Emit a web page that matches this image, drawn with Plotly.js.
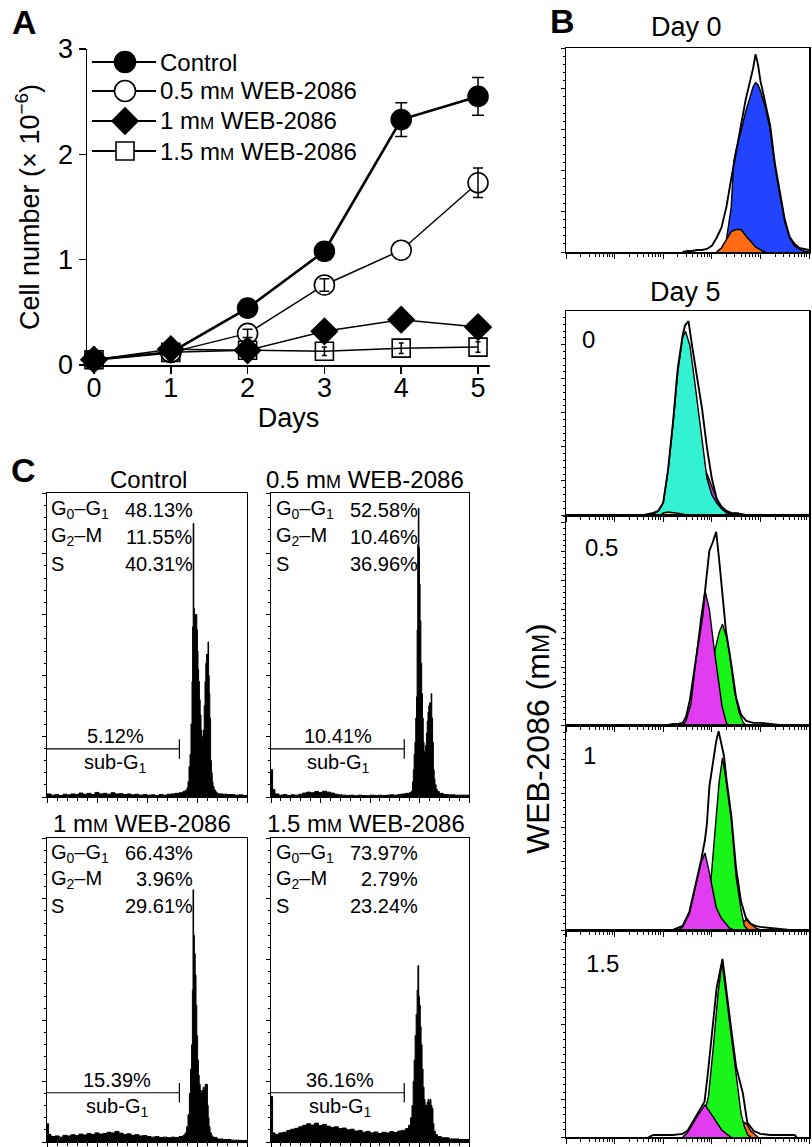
<!DOCTYPE html>
<html><head><meta charset="utf-8">
<script src="https://cdn.plot.ly/plotly-3.0.1.min.js"></script>
<style>html,body{margin:0;padding:0;background:#fff}</style>
</head><body><div id="chart" style="width:812px;height:1147px"></div>
<script>
// ---------------- Panel A data ----------------
const days = [0, 1, 2, 3, 4, 5];
const ctrlCells = [0.05, 0.12, 0.54, 1.08, 2.33, 2.55];
const ctrlErr   = [0.02, 0.02, 0.03, 0.04, 0.16, 0.18];
const web05Cells = [0.05, 0.12, 0.30, 0.76, 1.09, 1.73];
const web05Err   = [null, null, 0.04, 0.06, null, 0.14];
const web1Cells  = [0.05, 0.15, 0.14, 0.32, 0.43, 0.36];
const web1Err    = [0.03, 0.03, 0.05, 0.03, 0.03, 0.03];
const web15Cells = [0.05, 0.12, 0.14, 0.13, 0.16, 0.17];
const web15Err   = [0.04, 0.03, 0.04, 0.04, 0.05, 0.05];
const seriesNames = ['Control', '0.5 mM WEB-2086', '1 mM WEB-2086', '1.5 mM WEB-2086'];

// ---------------- Panel B data (x: log decades, y: % of panel height) ----------------
const bTitles = ['Day 0', 'Day 5'];
const bConc = ['0', '0.5', '1', '1.5'];
// Day 0
const b0TotalX = [2.4,2.5,2.6,2.7,2.8,2.9,3.0,3.1,3.2,3.3,3.4,3.5,3.6,3.7,3.8,3.85,3.9,3.95,4.0,4.1,4.2,4.3,4.4,4.5,4.6,4.7,4.8,4.9,5.0];
const b0TotalY = [0,0.5,0.5,1,1,1.5,3,7,12,22,36,50,62,75,85,90,97,92,84,73,62,43,30,16,7.5,4,2,1.5,1];
const b0BlueX = [3.1,3.2,3.3,3.4,3.45,3.5,3.6,3.7,3.8,3.85,3.9,3.95,4.0,4.1,4.2,4.3,4.4,4.5,4.6,4.7,4.8,4.9,5.0];
const b0BlueY = [0,2,6,22,44,50,59,69,77,81,83,82,79,71,60,42,28,15,7,3,1.5,0.5,0];
const b0OrangeX = [3.1,3.2,3.3,3.4,3.5,3.6,3.7,3.8,3.9,4.0,4.1];
const b0OrangeY = [0,2,6,10,11,11,8,5,2.5,1,0];
// Day 5, 0 mM
const b1TotalX = [1.6,1.7,1.8,1.9,2.0,2.1,2.2,2.3,2.4,2.45,2.52,2.6,2.7,2.8,2.9,3.0,3.1,3.2,3.3,3.4,3.5,3.6,3.7];
const b1TotalY = [0,0.5,1,2,6,22,45,72,88,93,95,82,68,52,33,18,8,4,2,1,0.5,0.5,0];
const b1MagentaX = [2.5,2.6,2.7,2.8,2.87,2.95,3.0,3.1,3.2,3.3,3.4,3.5];
const b1MagentaY = [0,5,15,21,22,17,14,8,3.5,1.5,0.5,0];
const b1CyanX = [1.7,1.8,1.9,2.0,2.1,2.2,2.3,2.4,2.46,2.55,2.65,2.75,2.85,2.9,2.95,3.0,3.1,3.2,3.3,3.4];
const b1CyanY = [0,0.5,2,6,22,44,70,87,90,83,65,45,26,18,14,10,6,3,1,0];
const b1YellowX = [1.95,2.0,2.1,2.2,2.3,2.4,2.45];
const b1YellowY = [0,1,1.5,1.2,1,0.5,0];
const b1OrangeX = [3.4,3.45,3.55,3.6];
const b1OrangeY = [0,1,1,0];
// Day 5, 0.5 mM
const b2TotalX = [2.1,2.2,2.3,2.4,2.47,2.55,2.67,2.81,2.88,2.95,3.02,3.09,3.15,3.22,3.29,3.4,3.5,3.6,3.71,3.85,4.0,4.2,4.4];
const b2TotalY = [0,0.5,0.5,1,4,12,31,52,68,83,87,92,79,63,45,29,13,5,2,1,1,0.5,0];
const b2GreenX = [2.85,2.9,3.0,3.07,3.15,3.22,3.3,3.36,3.46,3.56,3.65,3.7];
const b2GreenY = [0,5,25,36,44,48,42,35,17,6,1,0];
const b2MagentaX = [2.4,2.47,2.57,2.67,2.77,2.86,2.95,3.05,3.15,3.21,3.3,3.35];
const b2MagentaY = [0,2,10,29,50,64,55,36,20,9,1,0];
// Day 5, 1 mM
const b3TotalX = [2.2,2.3,2.4,2.54,2.67,2.78,2.86,2.9,2.95,3.02,3.09,3.14,3.2,3.25,3.3,3.4,3.5,3.6,3.7,3.8,3.9,4.0,4.2,4.4,4.6];
const b3TotalY = [0,1,2,9,22,34,44,52,70,82,92,97,91,85,74,56,30,14,6,3,2,1.5,1,0.5,0];
const b3OrangeX = [3.55,3.62,3.7,3.8,3.9,4.0];
const b3OrangeY = [0,3,5,3,1,0];
const b3GreenX = [2.85,2.95,3.02,3.09,3.15,3.22,3.28,3.4,3.5,3.6,3.67,3.75];
const b3GreenY = [0,15,35,54,72,84,75,54,26,10,2,0];
const b3MagentaX = [2.3,2.4,2.54,2.67,2.78,2.86,2.95,3.09,3.19,3.36,3.45];
const b3MagentaY = [0,1.5,8,21,33,37.5,28,11,6,1,0];
// Day 5, 1.5 mM
const b4TotalX = [1.7,1.8,2.0,2.2,2.4,2.5,2.7,2.85,2.92,3.02,3.1,3.22,3.3,3.4,3.5,3.64,3.73,3.86,4.0,4.2,4.5,4.7,4.75];
const b4TotalY = [0,1,1,1,1.5,3,11,17,31,53,72,86,72,52,34,21,7,3,1.5,1,1,1,0];
const b4OrangeX = [3.55,3.6,3.67,3.73,3.8,3.9,3.95];
const b4OrangeY = [0,4,7,6,3,1,0];
const b4GreenX = [2.7,2.8,2.88,2.93,3.02,3.13,3.21,3.3,3.4,3.5,3.6,3.67,3.74,3.8];
const b4GreenY = [0,3,14.5,19.5,40.5,69.5,84.7,67.6,48,31,11.6,5,1,0];
const b4MagentaX = [2.4,2.5,2.7,2.86,3.02,3.2,3.33,3.4];
const b4MagentaY = [0,2,10,15.5,10,3.5,1,0];

// ---------------- Panel C data (x: DNA channel 0-1000, y: % of panel height) ----------------
const cTitles = ['Control', '0.5 mM WEB-2086', '1 mM WEB-2086', '1.5 mM WEB-2086'];
const cPhaseLabels = ['G<sub>0</sub>–G<sub>1</sub>', 'G<sub>2</sub>–M', 'S'];
const cPhasePct = [[48.13, 11.55, 40.31], [52.58, 10.46, 36.96], [66.43, 3.96, 29.61], [73.97, 2.79, 23.24]];
const subG1Pct = [5.12, 10.41, 15.39, 36.16];
const subG1GateEnd = [662, 673, 662, 673];
const subG1GateLevel = [15.8, 15.8, 16.2, 16.2];

const cCtrlX = [0,20,40,60,80,100,120,140,160,180,200,220,240,260,280,300,320,340,360,380,400,420,440,460,480,500,520,540,560,580,600,620,640,660,680,690,700,705,710,715,720,725,728,731,734,737,740,743,746,749,752,755,758,762,766,770,774,778,782,786,790,794,798,802,805,808,811,814,818,822,826,830,835,840,845,850,860,880,900,920,940,960,980,1000];
const cCtrlY = [1.0,0.6,0.8,0.5,0.9,0.7,1.0,0.8,1.3,0.9,1.2,0.8,1.5,1.0,1.2,0.9,1.4,1.0,1.1,0.8,1.0,0.7,0.9,0.6,0.8,0.6,0.7,0.5,0.8,0.6,0.9,1.0,1.2,1.4,1.8,2.2,3,5,10,14,24,38,56,90,62,58,60,57,60,55,48,42,38,32,27,22,19,20,22,30,38,44,47,45,51,40,34,26,12,8,5,3.5,2.5,2,1.5,1.2,1,0.9,0.8,0.8,0.6,0.7,0.5,0.5];
const cW05X = [0,4,8,20,40,60,80,100,120,140,160,180,200,220,240,260,280,300,320,340,360,380,400,420,440,460,480,500,520,540,560,580,600,620,640,660,680,700,710,715,719,723,727,731,735,738,741,744,747,750,753,757,761,765,769,773,777,781,785,789,793,797,801,805,809,812,816,820,824,828,834,840,850,870,900,930,960,1000];
const cW05Y = [9,9,2.5,1.0,0.6,0.8,0.5,0.7,0.6,0.9,1.3,1.6,1.4,1.8,1.5,1.9,1.6,1.3,0.9,0.7,0.6,0.5,0.6,0.4,0.6,0.5,0.4,0.6,0.5,0.6,0.5,0.6,0.7,0.6,0.8,1.0,1.2,1.5,2,5,9,14,18,26,33,55,83,95,82,70,58,44,34,26,18,15,15,17,21,25,28,30,31,29,34,26,18,9,6,4,2.5,1.8,1.2,0.8,0.7,0.6,0.6,0.5];
const cW1X = [0,4,8,20,40,60,80,100,120,140,160,180,200,220,240,260,280,300,320,340,360,380,400,420,440,460,480,500,520,540,560,580,600,620,640,660,680,690,698,705,712,718,723,727,730,733,737,741,745,749,753,757,761,766,771,776,781,786,791,795,798,802,806,810,815,822,830,850,880,920,960,1000];
const cW1Y = [6,6,2.5,1.8,2.0,1.6,2.2,2.0,2.4,2.1,2.6,2.3,2.8,2.5,3.0,2.6,2.8,3.2,3.0,3.5,2.9,2.5,2.7,2.2,2.4,2.0,2.1,1.8,1.6,1.8,1.5,1.6,1.4,1.6,1.5,1.8,2.2,3,5,9,16,24,32,50,83,68,62,55,45,35,27,22,19,17,16,17,18,17,19,16,19,12,8,5,3,2,1.5,1.0,0.8,0.6,0.5,0.4];
const cW15X = [0,4,8,20,40,60,80,100,120,140,160,180,200,220,240,260,280,300,320,340,360,380,400,420,440,460,480,500,520,540,560,580,600,620,640,660,680,695,705,712,718,723,728,733,738,742,746,750,754,758,763,768,773,778,783,788,793,798,803,808,813,818,823,830,840,860,900,950,1000];
const cW15Y = [15,15,3,2.5,3.0,3.2,3.8,4.2,4.5,5.0,5.5,6.0,5.6,6.2,5.4,5.8,5.2,4.8,5.0,4.4,4.6,4.0,4.2,3.6,3.8,3.2,3.5,3.0,3.3,2.8,3.2,3.0,3.4,3.1,3.6,3.8,4.4,5.5,8,12,20,27,35,42,50,58,48,45,38,32,24,18,14,12,12,13,14,13,14,12,11,6,3.5,2.5,1.8,1.4,1.0,0.8,0.6];

// ---------------- Build figure ----------------
const W = 812, H = 1147;
const FONT = 'Liberation Sans, Arial, Helvetica, sans-serif';
const fx = px => px / W;
const fy = py => 1 - py / H;
const smallM = (s, px) => s.replace('mM', 'm<span style="font-size:' + px + 'px">M</span>');

const traces = [];
// Panel A: lines + markers
const aSeries = [
  {y: ctrlCells, e: ctrlErr, sym: 'circle', fill: '#000', keyFill: '#000', lw: 2.6, size: 20, cap: 6},
  {y: web05Cells, e: web05Err, sym: 'circle', fill: '#fff', keyFill: '#fff', lw: 1.5, size: 20, cap: 5},
  {y: web1Cells, e: web1Err, sym: 'diamond', fill: '#000', keyFill: '#000', lw: 1.5, size: 20, cap: 5},
  {y: web15Cells, e: web15Err, sym: 'square', fill: 'rgba(255,255,255,0)', keyFill: '#fff', lw: 1.5, size: 18, cap: 2.5}
];
aSeries.forEach((s, i) => {
  traces.push({
    type: 'scatter', mode: 'lines+markers', x: days, y: s.y,
    name: seriesNames[i], xaxis: 'x', yaxis: 'y', cliponaxis: false,
    line: {color: '#000', width: s.lw},
    marker: {symbol: s.sym, size: s.size, color: s.fill, line: {color: '#000', width: 1.6}},
    showlegend: false
  });
});
// error bars drawn on top of the markers (only where an error was visible)
aSeries.forEach((s, i) => {
  traces.push({
    type: 'scatter', mode: 'markers', x: days, y: s.y.map((v, k) => (s.e[k] == null ? null : v)),
    name: seriesNames[i] + ' SD', xaxis: 'x', yaxis: 'y', cliponaxis: false,
    marker: {size: 1, color: 'rgba(0,0,0,0)'},
    error_y: {type: 'data', array: s.e, visible: true, color: '#000', thickness: 1.5, width: s.cap},
    showlegend: false, hoverinfo: 'skip'
  });
});

// Panel B
const COL = {blue: '#2244ff', orange: '#ff6a14', cyan: '#33f2d2', magenta: '#e23cf0', green: '#19f519', yellow: '#f2f01e'};
const bPanels = [
  {comps: [[b0BlueX, b0BlueY, COL.blue], [b0OrangeX, b0OrangeY, COL.orange]], tot: [b0TotalX, b0TotalY]},
  {comps: [[b1MagentaX, b1MagentaY, COL.magenta], [b1CyanX, b1CyanY, COL.cyan], [b1YellowX, b1YellowY, COL.yellow], [b1OrangeX, b1OrangeY, COL.orange]], tot: [b1TotalX, b1TotalY]},
  {comps: [[b2GreenX, b2GreenY, COL.green], [b2MagentaX, b2MagentaY, COL.magenta]], tot: [b2TotalX, b2TotalY]},
  {comps: [[b3OrangeX, b3OrangeY, COL.orange], [b3GreenX, b3GreenY, COL.green], [b3MagentaX, b3MagentaY, COL.magenta]], tot: [b3TotalX, b3TotalY]},
  {comps: [[b4OrangeX, b4OrangeY, COL.orange], [b4GreenX, b4GreenY, COL.green], [b4MagentaX, b4MagentaY, COL.magenta]], tot: [b4TotalX, b4TotalY]}
];
bPanels.forEach((p, i) => {
  const xa = 'x' + (i + 2), ya = 'y' + (i + 2);
  p.comps.forEach(c => {
    traces.push({type: 'scatter', mode: 'lines', x: c[0], y: c[1], xaxis: xa, yaxis: ya,
      fill: 'tozeroy', fillcolor: c[2], line: {color: '#000', width: 1.4}, showlegend: false, hoverinfo: 'skip'});
  });
  traces.push({type: 'scatter', mode: 'lines', x: p.tot[0], y: p.tot[1], xaxis: xa, yaxis: ya,
    line: {color: '#000', width: 1.9}, showlegend: false, hoverinfo: 'skip'});
});

// Panel C
const cData = [[cCtrlX, cCtrlY], [cW05X, cW05Y], [cW1X, cW1Y], [cW15X, cW15Y]];
cData.forEach((d, i) => {
  traces.push({type: 'scatter', mode: 'lines', x: d[0], y: d[1], xaxis: 'x' + (i + 7), yaxis: 'y' + (i + 7),
    line: {color: '#000', width: 1, shape: 'hv'}, fill: 'tozeroy', fillcolor: '#000', showlegend: false, hoverinfo: 'skip'});
});

// ---------------- Layout ----------------
const layout = {
  width: W, height: H, margin: {l: 0, r: 0, t: 0, b: 0},
  paper_bgcolor: '#fff', plot_bgcolor: 'rgba(0,0,0,0)',
  font: {family: FONT, color: '#000', size: 20},
  showlegend: false,
  annotations: [], shapes: []
};
const baseAxis = {showgrid: false, zeroline: false, showline: true, linecolor: '#000', tickcolor: '#000', ticks: 'outside'};
layout.xaxis = Object.assign({}, baseAxis, {domain: [fx(87), fx(490)], range: [-0.091, 5.156], anchor: 'y',
  tickvals: days, ticklen: 7, tickwidth: 1.5, linewidth: 1.5, tickfont: {size: 27}, ticklabelstandoff: -9,
  title: {text: 'Days', font: {size: 27}, standoff: 0}});
layout.yaxis = Object.assign({}, baseAxis, {domain: [fy(365), fy(49)], range: [0, 3], anchor: 'x',
  tickvals: [0, 1, 2, 3], ticklen: 7, tickwidth: 1.5, linewidth: 1.5, tickfont: {size: 27},
  title: {text: 'Cell number (× 10<sup>−6</sup>)', font: {size: 27}, standoff: 10}});

// B axes
const bBoxes = [[48, 252, 20], [311, 515, 16.7], [515, 725, 13.76], [725, 930, 16.6], [930, 1137, 18.1]];
const minorLog = [];
for (let k = 0; k < 5; k++) for (let m = 2; m < 10; m++) minorLog.push(k + Math.log10(m));
bBoxes.forEach((b, i) => {
  const n = i + 2;
  layout['xaxis' + n] = Object.assign({}, baseAxis, {domain: [fx(566), fx(809)], range: [0, 5], anchor: 'y' + n,
    tickvals: [0, 1, 2, 3, 4, 5], ticklen: 5, tickwidth: 1, showticklabels: false, mirror: true, linewidth: 1.5,
    minor: {tickmode: 'array', tickvals: minorLog, ticks: 'outside', ticklen: 3, tickwidth: 1, tickcolor: '#000'}});
  layout['yaxis' + n] = Object.assign({}, baseAxis, {domain: [fy(b[1]), fy(b[0])], range: [0, 100], anchor: 'x' + n,
    tick0: 0, dtick: b[2], ticklen: 4, tickwidth: 1, showticklabels: false, mirror: true, linewidth: 1.5,
    minor: {tick0: 0, dtick: b[2] / 5, ticks: 'outside', ticklen: 2, tickwidth: 1, tickcolor: '#000'}});
});
// C axes
const cBoxes = [[47, 247, 493, 797], [271, 469, 493, 797], [47, 247, 838, 1142], [271, 469, 838, 1142]];
cBoxes.forEach((b, i) => {
  const n = i + 7;
  layout['xaxis' + n] = Object.assign({}, baseAxis, {domain: [fx(b[0]), fx(b[1])], range: [0, 1000], anchor: 'y' + n,
    tick0: 0, dtick: 250, ticklen: 5, tickwidth: 1, showticklabels: false, mirror: true, linewidth: 1.2,
    minor: {tick0: 0, dtick: 50, ticks: 'outside', ticklen: 2.5, tickwidth: 1, tickcolor: '#000'}});
  layout['yaxis' + n] = Object.assign({}, baseAxis, {domain: [fy(b[3]), fy(b[2])], range: [0, 100], anchor: 'x' + n,
    tick0: 0, dtick: 20, ticklen: 4, tickwidth: 1, showticklabels: false, mirror: true, linewidth: 1.2,
    minor: {tick0: 0, dtick: 4, ticks: 'outside', ticklen: 2, tickwidth: 1, tickcolor: '#000'}});
});

// ---------------- Text annotations ----------------
function ann(text, px, py, size, extra) {
  layout.annotations.push(Object.assign({text: text, x: fx(px), y: fy(py), xref: 'paper', yref: 'paper',
    xanchor: 'center', yanchor: 'middle', showarrow: false, font: {family: FONT, size: size, color: '#000'}}, extra || {}));
}
// Panel A key (legend), drawn as line + symbol + label like the original figure
const keyY = [62, 91, 121, 151];
aSeries.forEach((s, i) => {
  const yy = fy(keyY[i]);
  layout.shapes.push({type: 'line', xref: 'paper', yref: 'paper', x0: fx(92), x1: fx(156), y0: yy, y1: yy,
    line: {color: '#000', width: 1.8}});
  const r = s.sym === 'square' ? 9 : 10.5;
  const base = {xref: 'paper', yref: 'paper', xsizemode: 'pixel', ysizemode: 'pixel', xanchor: fx(125), yanchor: yy,
    fillcolor: s.keyFill, line: {color: '#000', width: 1.6}};
  if (s.sym === 'diamond') {
    layout.shapes.push(Object.assign({type: 'path', path: 'M-13,0 L0,-13 L13,0 L0,13 Z'}, base));
  } else {
    layout.shapes.push(Object.assign({type: s.sym === 'square' ? 'rect' : 'circle', x0: -r, x1: r, y0: -r, y1: r}, base));
  }
  ann(smallM(seriesNames[i], 17), 158, keyY[i], 24, {xanchor: 'left'});
});

ann('<b>A</b>', 24, 22, 34);
ann('<b>B</b>', 562, 21, 34);
ann('<b>C</b>', 23, 470, 34);
ann(bTitles[0], 686, 27, 27);
ann(bTitles[1], 685, 292, 27);
const bConcPos = [[588, 339], [601, 547], [589, 755], [602, 963]];
bConc.forEach((t, i) => ann(t, bConcPos[i][0], bConcPos[i][1], 24));
ann(smallM('WEB-2086 (mM)', 23), 538, 739, 32, {textangle: -90});

// C titles and stats
const cTitlePos = [[148, 479], [365, 479], [142, 823], [366, 823]];
cTitles.forEach((t, i) => ann(smallM(t, 18), cTitlePos[i][0], cTitlePos[i][1], 24));
const cTextLeft = [49, 274, 49, 274];
const cTextRight = [195, 420, 195, 420];
const cTextY = [[510, 537, 564], [510, 537, 564], [853, 879, 906], [853, 879, 906]];
cPhasePct.forEach((vals, i) => {
  vals.forEach((v, j) => {
    ann(cPhaseLabels[j], cTextLeft[i], cTextY[i][j], 20, {xanchor: 'left'});
    ann(v.toFixed(2) + '%', cTextRight[i], cTextY[i][j], 20, {xanchor: 'right'});
  });
});
const subG1TextX = [115, 338, 117, 340];
const subG1TextY = [736, 736, 1080, 1080];
subG1Pct.forEach((v, i) => {
  ann(v.toFixed(2) + '%', subG1TextX[i], subG1TextY[i], 20);
  ann('sub-G<sub>1</sub>', subG1TextX[i], subG1TextY[i] + 27, 20);
  const xr = 'x' + (i + 7), yr = 'y' + (i + 7);
  layout.shapes.push({type: 'line', xref: xr, yref: yr, x0: 0, x1: subG1GateEnd[i], y0: subG1GateLevel[i], y1: subG1GateLevel[i], line: {color: '#000', width: 1.2}});
  layout.shapes.push({type: 'line', xref: xr, yref: yr, x0: subG1GateEnd[i], x1: subG1GateEnd[i], y0: subG1GateLevel[i] - 3.2, y1: subG1GateLevel[i] + 3.2, line: {color: '#000', width: 1.2}});
});

Plotly.newPlot('chart', traces, layout, {displayModeBar: false, staticPlot: true});
</script></body></html>
